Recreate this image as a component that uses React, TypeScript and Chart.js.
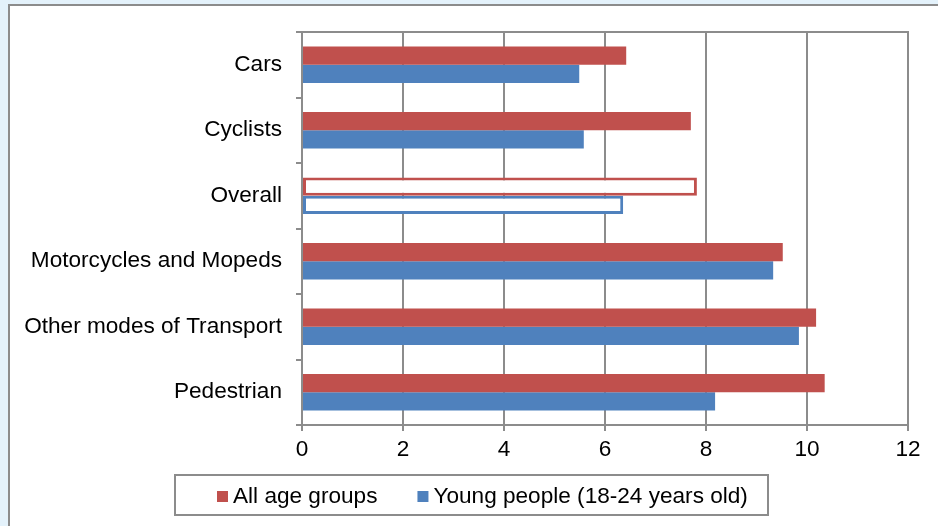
import React, { useEffect, useRef } from "react";
import { Chart, registerables } from "chart.js";

Chart.register(...registerables);

const categories = [
  "Cars",
  "Cyclists",
  "Overall",
  "Motorcycles and Mopeds",
  "Other modes of Transport",
  "Pedestrian",
];
const allAgeGroups = [6.42, 7.7, 7.82, 9.52, 10.18, 10.35];
const youngPeople = [5.49, 5.58, 6.36, 9.33, 9.84, 8.18];
const seriesLabels = ["All age groups", "Young people (18-24 years old)"];
const xTicks = [0, 2, 4, 6, 8, 10, 12];

const RED = "#C0504D";
const BLUE = "#4F81BD";
const GRID = "#8c8c8c";
const FONT = '"Liberation Sans", Arial, sans-serif';
const FONT_SIZE = 22.6;
const HIGHLIGHT = "Overall";

const plotBorder = {
  id: "plotBorder",
  beforeDatasetsDraw(chart: any) {
    const { ctx, chartArea } = chart;
    ctx.save();
    ctx.strokeStyle = GRID;
    ctx.lineWidth = 2;
    ctx.beginPath();
    ctx.moveTo(chartArea.left - 6, chartArea.top);
    ctx.lineTo(chartArea.right + 1, chartArea.top);
    ctx.stroke();
    ctx.restore();
  },
};

const boxLegend = {
  id: "boxLegend",
  afterDraw(chart: any) {
    const ctx = chart.ctx;
    ctx.save();
    const bx = 175, by = 475, bw = 593, bh = 40;
    ctx.fillStyle = "#ffffff";
    ctx.fillRect(bx, by, bw, bh);
    ctx.strokeStyle = GRID;
    ctx.lineWidth = 2;
    ctx.strokeRect(bx, by, bw, bh);
    ctx.font = FONT_SIZE + "px " + FONT;
    ctx.textBaseline = "middle";
    ctx.textAlign = "left";
    let x = 217;
    const cy = 496.5;
    chart.data.datasets.forEach((ds: any) => {
      ctx.fillStyle = ds.legendColor;
      ctx.fillRect(x, cy - 5.5, 11, 11);
      ctx.fillStyle = "#000000";
      ctx.fillText(ds.label, x + 16, cy);
      x += 16 + ctx.measureText(ds.label).width + 40;
    });
    ctx.restore();
  },
};

export default function App() {
  const ref = useRef<HTMLCanvasElement | null>(null);

  useEffect(() => {
    if (!ref.current) return;
    const makeDs = (label: string, data: number[], color: string) => ({
      label,
      data,
      legendColor: color,
      backgroundColor: categories.map((c) => (c === HIGHLIGHT ? "#ffffff" : color)),
      borderColor: color,
      borderWidth: categories.map((c) => (c === HIGHLIGHT ? 3 : 0)),
      borderSkipped: false,
      barPercentage: 1,
      categoryPercentage: 0.56,
    });
    const chart = new Chart(ref.current, {
      type: "bar",
      data: {
        labels: categories,
        datasets: [
          makeDs(seriesLabels[0], allAgeGroups, RED),
          makeDs(seriesLabels[1], youngPeople, BLUE),
        ] as any,
      },
      plugins: [plotBorder, boxLegend],
      options: {
        indexAxis: "y",
        animation: false,
        responsive: false,
        layout: { padding: { top: 32, right: 30, bottom: 0, left: 0 } },
        plugins: {
          legend: { display: false },
          tooltip: { enabled: false },
        },
        scales: {
          x: {
            min: 0,
            max: 12,
            afterBuildTicks: (scale: any) => {
              scale.ticks = xTicks.map((v) => ({ value: v }));
            },
            afterFit: (scale: any) => {
              scale.height = 101;
            },
            grid: {
              color: GRID,
              lineWidth: 2,
              tickLength: 6,
              drawTicks: true,
            },
            border: { color: GRID, width: 2 },
            ticks: {
              color: "#000000",
              font: { family: FONT, size: FONT_SIZE },
              padding: 5,
            },
          },
          y: {
            afterFit: (scale: any) => {
              scale.width = 302;
            },
            grid: {
              drawOnChartArea: false,
              color: GRID,
              lineWidth: 2,
              tickLength: 6,
              offset: true,
            },
            border: { color: GRID, width: 2 },
            ticks: {
              color: "#000000",
              font: { family: FONT, size: FONT_SIZE },
              padding: 14,
            },
          },
        },
      } as any,
    });
    return () => chart.destroy();
  }, []);

  return (
    <div
      style={{
        position: "fixed",
        left: 0,
        top: 0,
        width: 938,
        height: 526,
        overflow: "hidden",
        background: "#e4f2fb",
      }}
    >
      <div
        style={{
          position: "absolute",
          left: 8,
          top: 4,
          width: 960,
          height: 560,
          background: "#ffffff",
          border: "2px solid #8c8c8c",
        }}
      />
      <canvas
        ref={ref}
        width={938}
        height={526}
        style={{ position: "absolute", left: 0, top: 0, width: 938, height: 526 }}
      />
    </div>
  );
}
